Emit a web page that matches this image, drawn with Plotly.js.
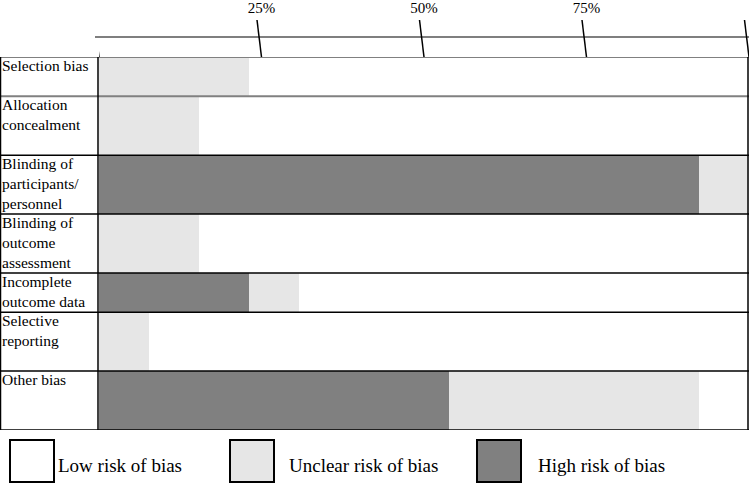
<!DOCTYPE html>
<html>
<head>
<meta charset="utf-8">
<script src="https://cdn.plot.ly/plotly-3.0.1.min.js"></script>
<style>html,body{margin:0;padding:0;background:#fff;}#chart{width:750px;height:483px;}</style>
</head>
<body>
<div id="chart"></div>
<script>
// ---- data ----
var domains = ['Selection bias', 'Allocation<br>concealment', 'Blinding of<br>participants/<br>personnel', 'Blinding of<br>outcome<br>assessment', 'Incomplete<br>outcome data', 'Selective<br>reporting', 'Other bias'];
var rowUnits = [2, 3, 3, 3, 2, 3, 3];
var highRisk = [0, 0, 92.3, 0, 23.1, 0, 53.8];
var unclearRisk = [23.1, 15.4, 7.7, 15.4, 7.7, 7.7, 38.5];
var lowRisk = [76.9, 84.6, 0, 84.6, 69.2, 92.3, 7.7];
var seriesNames = ['Low risk of bias', 'Unclear risk of bias', 'High risk of bias'];
var tickValues = [25, 50, 75];
var tickLabels = ['25%', '50%', '75%'];

// ---- styling ----
var colHigh = '#808080', colUnclear = '#e6e6e6', colLow = '#ffffff';
var serif = 'Liberation Serif';

// row geometry from row units
var tops = [], centers = [], acc = 0;
rowUnits.forEach(function (h) { tops.push(acc); centers.push(acc + h / 2); acc += h; });
var total = acc;

function barTrace(name, vals, color) {
  return {
    type: 'bar', orientation: 'h', name: name,
    x: vals, y: centers, width: rowUnits,
    marker: { color: color, line: { width: 0 } },
    hoverinfo: 'x+name', showlegend: false
  };
}
var traces = [
  barTrace(seriesNames[2], highRisk, colHigh),
  barTrace(seriesNames[1], unclearRisk, colUnclear),
  barTrace(seriesNames[0], lowRisk, colLow)
];

var shapes = [];
var LABELW = 99;
// row separators
var bounds = tops.concat([total]);
bounds.forEach(function (b, i) {
  var gray = (i < 2);
  shapes.push({
    type: 'line', xref: 'paper', xsizemode: 'pixel', xanchor: 0, x0: -LABELW, x1: 650,
    yref: 'y', y0: b, y1: b,
    line: { color: gray ? '#808080' : '#000000', width: gray ? 2 : 1.5 }
  });
});
// vertical borders
[-LABELW + 0.5, -1, 649].forEach(function (px) {
  shapes.push({
    type: 'line', xref: 'paper', xsizemode: 'pixel', xanchor: 0, x0: px, x1: px,
    yref: 'y', y0: 0, y1: total, line: { color: '#000000', width: 1.5 }
  });
});
// top axis line
shapes.push({
  type: 'line', xref: 'paper', xsizemode: 'pixel', xanchor: 0, x0: -4, x1: 650,
  yref: 'paper', ysizemode: 'pixel', yanchor: 1, y0: 20, y1: 20,
  line: { color: '#555555', width: 1.5 }
});
// slanted tick marks
[0].concat(tickValues).concat([100]).forEach(function (v) {
  shapes.push({
    type: 'line', xref: 'x', xsizemode: 'pixel', xanchor: v, x0: -4.5, x1: 0,
    yref: 'paper', ysizemode: 'pixel', yanchor: 1, y0: 37, y1: 0,
    line: { color: '#000000', width: 1.5 }
  });
});

// legend boxes + labels
var legendColors = [colLow, colUnclear, colHigh];
var legendBoxX = [-89, 131, 378];
var legendTextX = [-43, 188, 437];
var annotations = [];
seriesNames.forEach(function (n, i) {
  shapes.push({
    type: 'rect', xref: 'paper', xsizemode: 'pixel', xanchor: 0, x0: legendBoxX[i], x1: legendBoxX[i] + 44,
    yref: 'paper', ysizemode: 'pixel', yanchor: 0, y0: -10, y1: -52,
    fillcolor: legendColors[i], line: { color: '#000000', width: 2 }
  });
  annotations.push({
    xref: 'paper', x: 0, xshift: legendTextX[i], xanchor: 'left',
    yref: 'paper', y: 0, yshift: -35, yanchor: 'middle',
    text: n, showarrow: false, font: { family: serif, size: 19, color: '#000' }
  });
});
// row labels
domains.forEach(function (d, i) {
  annotations.push({
    xref: 'paper', x: 0, xshift: -LABELW, xanchor: 'left',
    yref: 'y', y: tops[i], yshift: 2, yanchor: 'top', align: 'left',
    text: d, showarrow: false, font: { family: serif, size: 15.5, color: '#000' }
  });
});

var layout = {
  width: 750, height: 483,
  margin: { l: 99, r: 1, t: 57, b: 53 },
  paper_bgcolor: '#ffffff', plot_bgcolor: '#ffffff',
  font: { family: serif },
  barmode: 'stack', bargap: 0,
  showlegend: false,
  xaxis: {
    side: 'top', range: [0, 100], tickvals: tickValues, ticktext: tickLabels,
    ticks: '', showgrid: false, zeroline: false, showline: false,
    ticklabelstandoff: 40,
    tickfont: { family: serif, size: 15, color: '#000' }, fixedrange: true
  },
  yaxis: {
    range: [total, 0], showticklabels: false, ticks: '', showgrid: false,
    zeroline: false, showline: false, fixedrange: true
  },
  shapes: shapes,
  annotations: annotations
};

Plotly.newPlot('chart', traces, layout, { displayModeBar: false, staticPlot: true });
</script>
</body>
</html>
